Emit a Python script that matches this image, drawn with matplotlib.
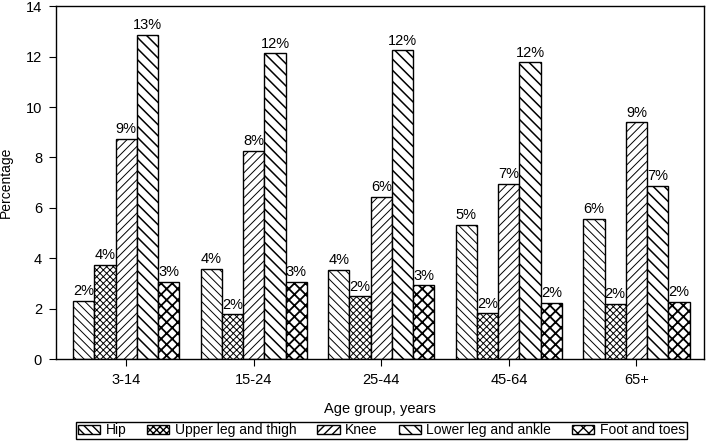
import numpy as np
import matplotlib.pyplot as plt

age_groups = ['3-14', '15-24', '25-44', '45-64', '65+']
parts = ['Hip', 'Upper leg and thigh', 'Knee', 'Lower leg and ankle', 'Foot and toes']

hip = [2.32, 3.58, 3.54, 5.33, 5.57]
upper_leg = [3.74, 1.79, 2.50, 1.83, 2.19]
knee = [8.75, 8.27, 6.44, 6.96, 9.39]
lower_leg = [12.86, 12.13, 12.25, 11.77, 6.88]
foot = [3.08, 3.07, 2.94, 2.23, 2.27]

series = [hip, upper_leg, knee, lower_leg, foot]
hatches = ['\\\\\\\\', 'xxxxx', '////', '\\\\\\', 'xxx']
hatch_lw = [0.7, 0.7, 0.7, 1.1, 1.3]

plt.rcParams['font.family'] = ['Liberation Sans', 'DejaVu Sans']
plt.rcParams['font.size'] = 10

fig = plt.figure(figsize=(7.09, 4.44), dpi=100)
ax = fig.add_axes([0.079, 0.191, 0.914, 0.795])

x = np.arange(len(age_groups))
w = 1 / 6
for i, (vals, h, lw, name) in enumerate(zip(series, hatches, hatch_lw, parts)):
    offs = x + (i - 2) * w
    with plt.rc_context({'hatch.linewidth': lw}):
        bars = ax.bar(offs, vals, width=w, color='white', edgecolor='black',
                      linewidth=1, hatch=h, label=name)
    for b in bars:
        if hasattr(b, 'set_hatch_linewidth'):
            b.set_hatch_linewidth(lw)
    for xi, v in zip(offs, vals):
        ax.text(xi, v + 0.1, f'{v:.0f}%', ha='center', va='bottom', fontsize=10.5)

ax.set_xlim(-0.55, 4.53)
ax.set_ylim(0, 14)
ax.set_yticks(range(0, 15, 2))
ax.set_xticks(x)
ax.set_xticklabels(age_groups)
ax.tick_params(axis='both', direction='out', length=5, width=0.8, labelsize=10.5, pad=5)
ax.set_xlabel('Age group, years', fontsize=10.5, labelpad=11)
ax.set_ylabel('Percentage', fontsize=10, labelpad=9)
for s in ax.spines.values():
    s.set_color('black')
    s.set_linewidth(1)

fig.legend(loc='lower center', bbox_to_anchor=(0.538, 0.005), ncol=5, fontsize=10,
           frameon=True, fancybox=False, edgecolor='black', framealpha=1,
           handlelength=1.6, handleheight=0.55, columnspacing=1.5, handletextpad=0.4,
           borderpad=0.12, borderaxespad=0.2)

plt.savefig('out.png', dpi=100)
